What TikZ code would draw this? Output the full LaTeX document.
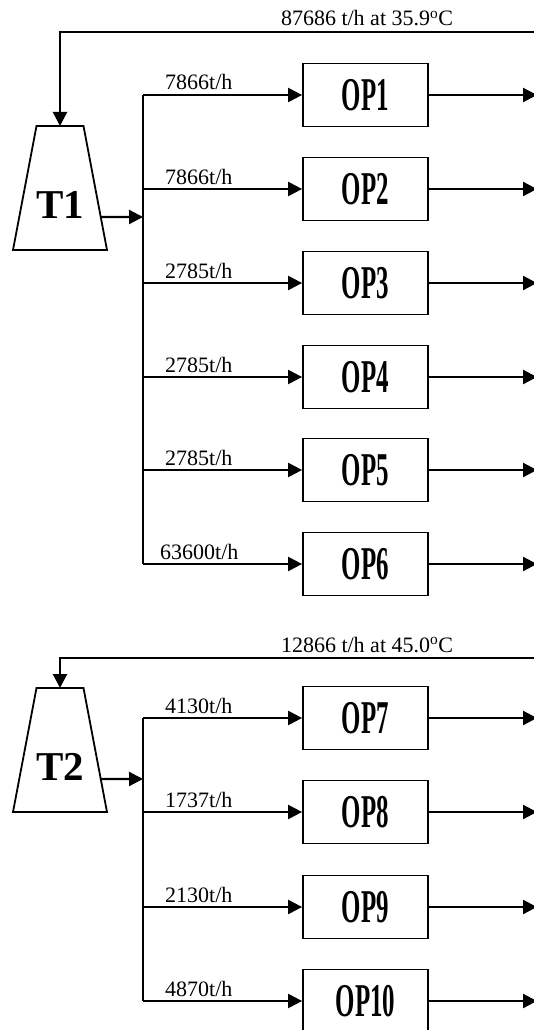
\documentclass[tikz,border=0pt]{standalone}
\usepackage{fontspec}
\setmainfont{Liberation Serif}
\usetikzlibrary{arrows.meta,calc}
\tikzset{
  arr/.style={line width=2.2pt,-{Triangle[length=14pt,width=14pt]}},
  ln/.style={line width=2.2pt},
  opbox/.style={draw,line width=1.8pt,minimum width=125pt,minimum height=63pt,inner sep=0pt,
    font=\fontsize{47}{47}\selectfont\bfseries},
  tank/.style={draw,line width=1.8pt,line join=miter},
  tlab/.style={font=\fontsize{41}{41}\selectfont\bfseries},
  flow/.style={anchor=base west,inner sep=0pt,font=\fontsize{22}{26}\selectfont},
  toplab/.style={anchor=base,inner sep=0pt,font=\fontsize{22}{26}\selectfont}
}
\newcommand{\oplabel}[1]{\scalebox{0.53}[1]{#1}}
\begin{document}
\begin{tikzpicture}[x=1pt,y=-1pt]
\useasboundingbox (0,0) rectangle (533,1030);
% ---------- group 1 ----------
\coordinate (T1tl) at (36.5,126);
\coordinate (T1tr) at (83.5,126);
\coordinate (T1br) at (107,250);
\coordinate (T1bl) at (13,250);
\coordinate (T1top) at (60,126);
\draw[tank] (T1tl) -- (T1tr) -- (T1br) -- (T1bl) -- cycle;
\node[tlab] (T1) at (60,205) {T1};
\coordinate (r1) at (535,32);
\node[toplab] (L0) at (367,26) {87686 t/h at 35.9$^{\mathrm{o}}$C};
\draw[arr] (r1) -| (T1top);
\coordinate (T1o) at ($(T1tr)!0.734!(T1br)$);
\coordinate (B1j) at (143,217);
\draw[arr] (T1o) -- (B1j);
\coordinate (B1t) at (143,95);
\coordinate (B1b) at (143,564);
\draw[ln] (B1t) -- (B1b);
\foreach \i/\y/\f/\lx in {1/95/7866t\slash h/165,2/189/7866t\slash h/165,3/283/2785t\slash h/165,4/377/2785t\slash h/165,5/470/2785t\slash h/165,6/564/63600t\slash h/160}{
  \node[opbox] (OP\i) at (365.5,\y) {\oplabel{OP\i}};
  \coordinate (s\i) at (143,\y);
  \coordinate (e\i) at (537,\y);
  \draw[arr] (s\i) -- (OP\i.west);
  \draw[arr] (OP\i.east) -- (e\i);
  \node[flow] (F\i) at (\lx,\y-5) {\f};
}
% ---------- group 2 ----------
\coordinate (T2tl) at (36.5,688);
\coordinate (T2tr) at (83.5,688);
\coordinate (T2br) at (107,812);
\coordinate (T2bl) at (13,812);
\coordinate (T2top) at (60,688);
\draw[tank] (T2tl) -- (T2tr) -- (T2br) -- (T2bl) -- cycle;
\node[tlab] (T2) at (60,767) {T2};
\coordinate (r2) at (535,658);
\node[toplab] (L1) at (367,652) {12866 t/h at 45.0$^{\mathrm{o}}$C};
\draw[arr] (r2) -| (T2top);
\coordinate (T2o) at ($(T2tr)!0.734!(T2br)$);
\coordinate (B2j) at (143,779);
\draw[arr] (T2o) -- (B2j);
\coordinate (B2t) at (143,718);
\coordinate (B2b) at (143,1001);
\draw[ln] (B2t) -- (B2b);
\foreach \i/\y/\f in {7/718/4130t\slash h,8/812/1737t\slash h,9/907/2130t\slash h,10/1001/4870t\slash h}{
  \node[opbox] (OP\i) at (365.5,\y) {\oplabel{OP\i}};
  \coordinate (s\i) at (143,\y);
  \coordinate (e\i) at (537,\y);
  \draw[arr] (s\i) -- (OP\i.west);
  \draw[arr] (OP\i.east) -- (e\i);
  \node[flow] (F\i) at (165,\y-5) {\f};
}
\end{tikzpicture}
\end{document}
